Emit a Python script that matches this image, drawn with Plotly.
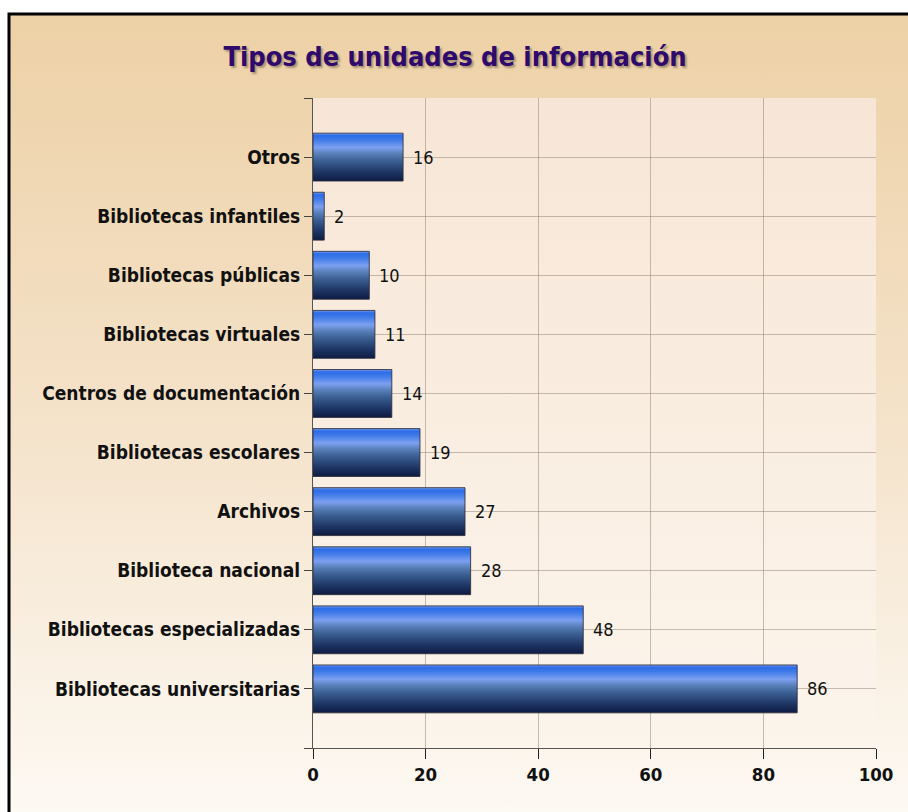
import plotly.graph_objects as go

# ---- data (bottom to top) ----
categories = [
    "Bibliotecas universitarias",
    "Bibliotecas especializadas",
    "Biblioteca nacional",
    "Archivos",
    "Bibliotecas escolares",
    "Centros de documentación",
    "Bibliotecas virtuales",
    "Bibliotecas públicas",
    "Bibliotecas infantiles",
    "Otros",
]
values = [86, 48, 28, 27, 19, 14, 11, 10, 2, 16]
x_ticks = [0, 20, 40, 60, 80, 100]
title_text = "Tipos de unidades de información"

W, H = 908, 812
FONT = "DejaVu Sans Condensed, DejaVu Sans, sans-serif"

# plot area in pixels
PL, PR, PT, PB = 313, 876, 98, 748
BAR_W = 0.81
GRID = "rgba(130,115,100,0.45)"

bar_scale = [
    [0.0, "#0e1b42"],
    [0.18, "#1d3463"],
    [0.42, "#3b5f92"],
    [0.58, "#5b82bd"],
    [0.70, "#7ca0f0"],
    [0.86, "#3f7ae8"],
    [0.95, "#2d6ce8"],
    [1.0, "#79a0f0"],
]

fig = go.Figure()

# ---- background subplot (pixel coordinates) ----
fig.add_trace(go.Scatter(
    x=[10, W, W, 10, 10], y=[15, 15, H, H, 15],
    mode="lines", line=dict(width=0), fill="toself",
    fillgradient=dict(type="vertical", start=15, stop=H,
                      colorscale=[[0, "#edd1a6"], [0.5, "#f4e2c9"], [1, "#fdf9f3"]]),
    hoverinfo="skip", showlegend=False, xaxis="x", yaxis="y",
))
fig.add_trace(go.Scatter(
    x=[PL, PR, PR, PL, PL], y=[PT, PT, PB, PB, PT],
    mode="lines", line=dict(width=0), fill="toself",
    fillgradient=dict(type="vertical", start=PT, stop=PB,
                      colorscale=[[0, "#f7e6d6"], [1, "#fcf5ec"]]),
    hoverinfo="skip", showlegend=False, xaxis="x", yaxis="y",
))

# ---- bars as gradient-filled polygons on data axes ----
for i, v in enumerate(values):
    y0, y1 = i - BAR_W / 2, i + BAR_W / 2
    fig.add_trace(go.Scatter(
        x=[0, v, v, 0, 0], y=[y0, y0, y1, y1, y0],
        mode="lines", line=dict(width=1, color="rgba(45,45,60,0.85)"),
        fill="toself",
        fillgradient=dict(type="vertical", start=y0, stop=y1, colorscale=bar_scale),
        hoverinfo="text", text=f"{categories[i]}: {v}",
        showlegend=False, xaxis="x2", yaxis="y2",
    ))

annotations = []
for i, v in enumerate(values):
    annotations.append(dict(
        x=v, y=i, xref="x2", yref="y2", text=str(v), showarrow=False,
        xanchor="left", yanchor="middle", xshift=8,
        font=dict(family=FONT, size=18, color="#111111"),
    ))

fig.update_layout(
    width=W, height=H,
    margin=dict(l=0, r=0, t=0, b=0, pad=0, autoexpand=False),
    paper_bgcolor="white",
    plot_bgcolor="rgba(0,0,0,0)",
    showlegend=False,
    title=dict(
        text=title_text, x=455 / W, y=1 - 57 / H, xanchor="center", yanchor="middle",
        font=dict(family=FONT, size=27, color="#2e0a6c", weight="bold",
                  shadow="2px 2px 2px rgba(120,100,80,0.6)"),
    ),
    xaxis=dict(domain=[0, 1], range=[0, W], visible=False, fixedrange=True, automargin=False),
    yaxis=dict(domain=[0, 1], range=[H, 0], visible=False, fixedrange=True, automargin=False),
    xaxis2=dict(
        domain=[PL / W, PR / W], anchor="y2", range=[0, 100], automargin=False,
        tickvals=x_ticks, showgrid=True, gridcolor=GRID, gridwidth=1,
        zeroline=False, showline=True, linecolor="#555555", linewidth=1,
        ticks="outside", ticklen=10, tickcolor="#222222", tickwidth=1,
        tickfont=dict(family=FONT, size=18.5, color="#111111", weight="bold"),
        fixedrange=True,
    ),
    yaxis2=dict(
        domain=[1 - PB / H, 1 - PT / H], anchor="x2", range=[-1, len(categories)],
        automargin=False,
        tickvals=[-1] + list(range(len(categories))) + [len(categories)],
        ticktext=[""] + categories + [""],
        showgrid=True, gridcolor=GRID, gridwidth=1,
        zeroline=False, showline=True, linecolor="#555555", linewidth=1,
        ticks="outside", ticklen=8, tickcolor="#444444", tickwidth=1,
        tickfont=dict(family=FONT, size=19, color="#111111", weight="bold"),
        fixedrange=True,
    ),
    annotations=annotations,
    shapes=[
        dict(type="path", xref="paper", yref="paper",
             path=f"M {9/W} 0 L {9/W} {1-14/H} L 1.01 {1-14/H}",
             line=dict(color="black", width=3), layer="above"),
    ],
)

fig.write_html(
    "out.html",
    config={"displayModeBar": False},
    post_script="document.body.style.margin='0';document.body.style.overflow='hidden';",
)
